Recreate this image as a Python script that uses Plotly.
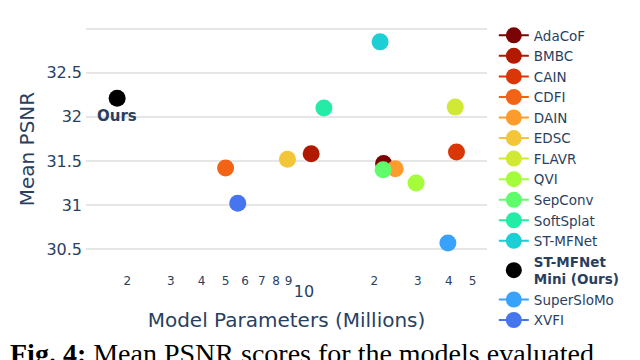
import math
import plotly.graph_objects as go

# Model data (params in millions, mean PSNR in dB)
models = ['AdaCoF', 'BMBC', 'CAIN', 'CDFI', 'DAIN', 'EDSC', 'FLAVR', 'QVI',
          'SepConv', 'SoftSplat', 'ST-MFNet', 'ST-MFNet Mini (Ours)',
          'SuperSloMo', 'XVFI']
params = [21.8, 11.1, 43.0, 5.0, 24.3, 8.9, 42.5, 29.5,
          21.7, 12.5, 21.1, 1.82, 39.7, 5.6]
psnr = [31.47, 31.58, 31.60, 31.42, 31.41, 31.52, 32.11, 31.25,
        31.40, 32.10, 32.85, 32.21, 30.57, 31.02]
colors = ['#7a0403', '#b11901', '#d93806', '#f36315', '#fe9b2d', '#f3c63a',
          '#d1e834', '#a4fc3b', '#61fc6c', '#24eca6', '#1bcfd4', '#000000',
          '#39a2fc', '#4675ed']

y_ticks = [30.5, 31, 31.5, 32, 32.5, 33]
y_ticktext = ['30.5', '31', '31.5', '32', '32.5', '']

OURS = 'ST-MFNet Mini (Ours)'
TEXT = '#2a3f5f'
FONT = 'DejaVu Sans'

# plot area in figure pixels (page adds an 8px body margin)
W, H = 640, 360
L, T = 78, 16
PW, PH = 401, 248
R, B = W - L - PW, H - T - PH


def px_x(x):
    return (x - L) / PW


def px_y(y):
    return (T + PH - y) / PH


fig = go.Figure()
for name, x, y, c in zip(models, params, psnr, colors):
    if name == OURS:
        fig.add_trace(go.Scatter(
            x=[x], y=[y], mode='markers',
            name='<b>ST-MFNet<br>Mini (Ours)</b>',
            marker=dict(color=c, size=17),
        ))
        # log axis: annotation x is given in log10 units
        fig.add_annotation(x=math.log10(x), y=y, xref='x', yref='y', yshift=-18,
                           text='<b>Ours</b>', showarrow=False,
                           font=dict(family=FONT, size=15, color=TEXT))
    else:
        fig.add_trace(go.Scatter(
            x=[x], y=[y], mode='lines+markers', name=name,
            marker=dict(color=c, size=17),
            line=dict(color=c, width=2),
        ))

# clipped figure caption at the bottom of the page
sp = '&nbsp;'
caption = sp.join(['<b>Fig. 4:</b>', 'Mean', 'PSNR', 'scores', 'for', 'the',
                   'models', 'evaluated'])
fig.add_annotation(xref='paper', yref='paper', x=px_x(0), y=px_y(329),
                   xanchor='left', yanchor='top', showarrow=False,
                   text=caption,
                   font=dict(family='Liberation Serif', size=28, color='black'))

fig.update_layout(
    template='plotly_white',
    width=W, height=H,
    margin=dict(l=L, r=R, t=T, b=B),
    font=dict(family=FONT, color=TEXT),
    plot_bgcolor='white',
    paper_bgcolor='white',
    xaxis=dict(
        type='log',
        range=[0.134, 1.757],
        dtick='D1',
        showgrid=False,
        zeroline=False,
        tickfont=dict(size=16),
        title=dict(text='Model Parameters (Millions)', font=dict(size=20),
                   standoff=12),
    ),
    yaxis=dict(
        range=[30.24, 33.03],
        tickvals=y_ticks,
        ticktext=y_ticktext,
        gridcolor='#e6e6e6',
        gridwidth=2,
        zeroline=False,
        tickfont=dict(size=16),
        ticklabelstandoff=3,
        title=dict(text='Mean PSNR', font=dict(size=20), standoff=6),
    ),
    legend=dict(x=1.017, y=px_y(10), xanchor='left', yanchor='top',
                font=dict(size=13.5), bgcolor='rgba(0,0,0,0)', maxheight=350),
    showlegend=True,
)

fig.write_html('out.html')
